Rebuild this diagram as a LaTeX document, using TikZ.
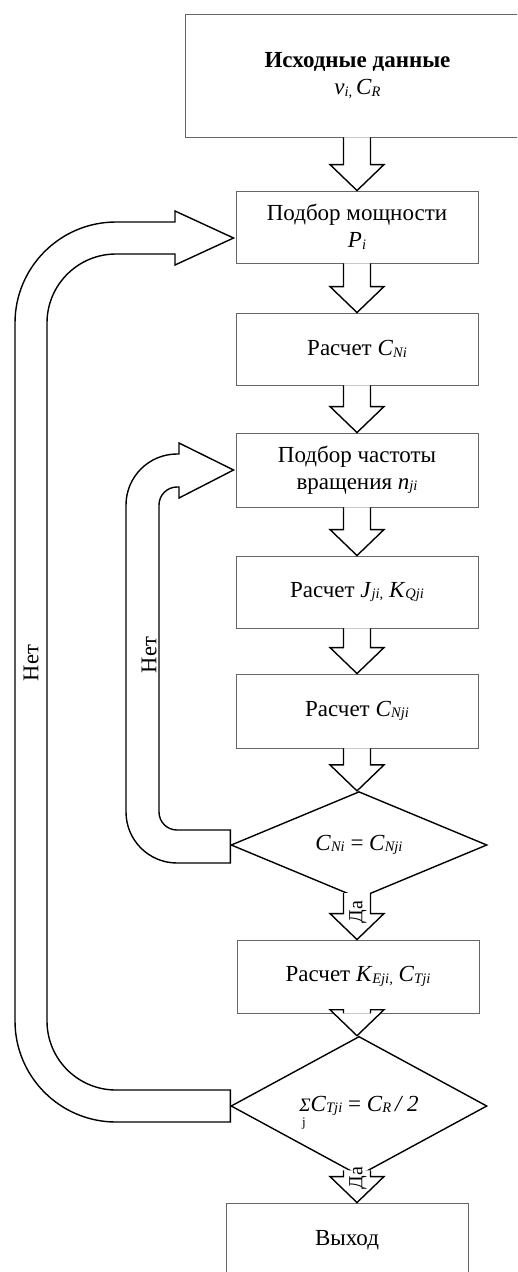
\documentclass[tikz,border=0pt]{standalone}
\usepackage{fontspec}
\setmainfont{Liberation Serif}
\usetikzlibrary{shapes.geometric,calc}
\newcommand\lo[1]{\raisebox{-1.5pt}{\fontsize{14.5}{14.5}\selectfont\itshape #1}}
\tikzset{
  box/.style={draw=black!60, line width=0.9pt, rectangle, minimum width=242pt,
    minimum height=72pt, inner sep=0pt, align=center, font=\fontsize{23}{27}\selectfont},
  dec/.style={draw=black, line width=1.4pt, diamond, minimum width=256pt,
    minimum height=101pt, inner sep=0pt, fill=white, font=\fontsize{23}{27}\selectfont},
  band/.style={draw=black, line width=1.4pt, fill=white, line join=miter},
  arrowline/.style={draw=black, line width=1.4pt, line join=miter},
  netlbl/.style={font=\fontsize{22.5}{22.5}\selectfont, rotate=90, inner sep=0pt},
  dalbl/.style={font=\fontsize{20}{20}\selectfont, rotate=90, inner sep=0pt},
  idx/.style={font=\fontsize{13}{13}\selectfont, inner sep=0pt},
}
\newcommand\barrow[2]{%
  \path[fill=white] let \p1=(#1), \p2=(#2) in
    (\x2-13.5pt,\y1) -- (\x2-13.5pt,\y2+26pt) -- (\x2-27pt,\y2+26pt) -- (\x2,\y2)
    -- (\x2+27pt,\y2+26pt) -- (\x2+13.5pt,\y2+26pt) -- (\x2+13.5pt,\y1) -- cycle;
  \draw[arrowline] let \p1=(#1), \p2=(#2) in
    (\x2-13.5pt,\y1) -- (\x2-13.5pt,\y2+26pt) -- (\x2-27pt,\y2+26pt) -- (\x2,\y2)
    -- (\x2+27pt,\y2+26pt) -- (\x2+13.5pt,\y2+26pt) -- (\x2+13.5pt,\y1);}
\begin{document}
\begin{tikzpicture}[x=1pt,y=1pt]
\useasboundingbox (0,0) rectangle (517,-1272);
\clip (0,0) rectangle (517,-1272);

% boxes
\node[box, minimum width=345pt, minimum height=123pt] (b1) at (357.5,-75.5)
  {\textbf{Исходные данные}\\ \textit{v}\lo{i,}\,\textit{C}\lo{R}};
\node[box] (b2) at (357,-227) {Подбор мощности\\ \textit{P}\lo{i}};
\node[box] (b3) at (357,-349) {Расчет \textit{C}\lo{Ni}};
\node[box, minimum height=74pt] (b4) at (357,-470) {Подбор частоты\\ вращения \textit{n}\lo{ji}};
\node[box] (b5) at (357,-592) {Расчет \textit{J}\lo{ji,} \textit{K}\lo{Qji}};
\node[box, minimum height=74pt] (b6) at (357,-711) {Расчет \textit{C}\lo{Nji}};
\node[dec] (d1) at (359,-845) {\textit{C}\lo{Ni} = \textit{C}\lo{Nji}};
\node[box, minimum height=73pt] (b7) at (358,-976.5) {Расчет \textit{K}\lo{Eji,} \textit{C}\lo{Tji}};
\node[dec, minimum height=102pt] (d2) at (359,-1106)
  {{\fontsize{19}{19}\selectfont\textit{Σ}}\textit{C}\lo{Tji} = \textit{C}\lo{R}\,\textit{/ 2}};
\node[idx] (jidx) at (304,-1124) {j};
\node[box, minimum height=74pt] (b8) at (347,-1240) {Выход};

% block arrows
\barrow{b1.south}{b2.north}
\barrow{b2.south}{b3.north}
\barrow{b3.south}{b4.north}
\barrow{b4.south}{b5.north}
\barrow{b5.south}{b6.north}
\barrow{b6.south}{d1.north -| b6.south}
\barrow{$(d1.south)+(0,6)$}{b7.north -| b6.south}
\barrow{b7.south}{d2.north -| b6.south}
\barrow{$(d2.south)+(0,6)$}{b8.north -| b6.south}
\node[dalbl] (da1) at (358,-912) {Да};
\node[dalbl] (da2) at (358,-1178) {Да};

% inner loop (Нет) from d1 to b4
\path[band] let \p1=(d1.west), \p2=(b4.west) in
  (\x1,\y1+15pt) -- (177,\y1+15pt) arc(270:180:18) -- (159,\y2-35pt) arc(180:90:18)
  -- (179,\y2-17pt) -- (179,\y2-28pt) -- (\x2-2pt,\y2) -- (179,\y2+27pt) -- (179,\y2+16pt)
  -- (177,\y2+16pt) arc(90:180:51) -- (126,\y1+33pt) arc(180:270:51) -- (\x1,\y1-18pt) -- cycle;
\node[netlbl] (net1) at (149,-655) {Нет};

% outer loop (Нет) from d2 to b2
\path[band] let \p1=(d2.west), \p2=(b2.west) in
  (\x1,\y1+16pt) -- (116,\y1+16pt) arc(270:180:69) -- (47,\y2-96pt) arc(180:90:69)
  -- (175,\y2-27pt) -- (175,\y2-38pt) -- (\x2-2pt,\y2-11pt) -- (175,\y2+16pt) -- (175,\y2+5pt)
  -- (116,\y2+5pt) arc(90:180:101) -- (15,\y1+85pt) arc(180:270:101) -- (\x1,\y1-16pt) -- cycle;
\node[netlbl] (net2) at (31,-663) {Нет};
\end{tikzpicture}
\end{document}
